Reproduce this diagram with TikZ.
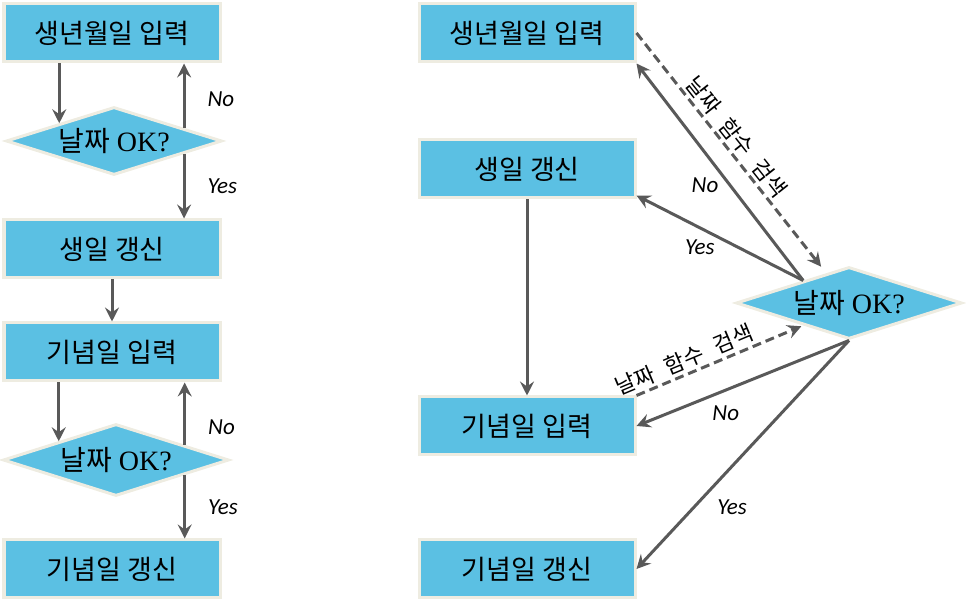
\documentclass[tikz,border=0pt]{standalone}
\usepackage{fontspec}
\setmainfont{Liberation Serif}
\newfontfamily\kr{Noto Sans CJK KR}
\newfontfamily\krwide[WordSpace=2.6, Scale=1.001]{Noto Sans CJK KR}
\newfontfamily\lat{Carlito}
\usepackage{tikz}
\usetikzlibrary{shapes.geometric, arrows, calc, positioning, arrows.meta}
\definecolor{boxfill}{HTML}{5BC0E3}
\definecolor{boxline}{HTML}{EEECE1}
\definecolor{linegray}{HTML}{595959}
\tikzstyle{process} = [rectangle, fill=boxfill, draw=boxline, line width=1.5pt, minimum width=108pt, minimum height=29pt, inner sep=0pt, font=\kr\fontsize{13.5}{15}\selectfont]
\tikzstyle{decision} = [diamond, fill=boxfill, draw=boxline, line width=1.5pt, minimum width=108pt, minimum height=34pt, inner sep=0pt, aspect=3, font=\fontsize{14}{15}\selectfont]
\tikzstyle{arrow} = [line width=1.5pt, draw=linegray, -{Stealth[length=7pt, width=7pt, inset=2.5pt]}]
\tikzstyle{dasharrow} = [arrow, dash pattern=on 4.5pt off 2.5pt]
\tikzstyle{answer} = [font=\lat\itshape\fontsize{11.5}{12}\selectfont, inner sep=1pt]
\tikzstyle{search} = [font=\krwide\fontsize{11}{12}\selectfont, inner sep=1.5pt, sloped, above]

\begin{document}
\begin{tikzpicture}[x=0.5pt, y=-0.5pt]
	\useasboundingbox (0,0) rectangle (966,603);
	% left: one check after each input
	\node (BirthIn) [process] at (112,33) {생년월일 입력};
	\node (BirthOK) [decision] at (114,141) {{\kr 날짜} OK?};
	\node (BirthUp) [process] at (112,249) {생일 갱신};
	\node (AnnivIn) [process] at (112,352) {기념일 입력};
	\node (AnnivOK) [decision, minimum width=113pt, minimum height=36pt] at (116,460) {{\kr 날짜} OK?};
	\node (AnnivUp) [process] at (112,569) {기념일 갱신};
	\coordinate (BirthNo) at ($(BirthOK.north)!0.64!(BirthOK.east)$);
	\coordinate (BirthYes) at ($(BirthOK.south)!0.64!(BirthOK.east)$);
	\coordinate (AnnivNo) at ($(AnnivOK.north)!0.6!(AnnivOK.east)$);
	\coordinate (AnnivYes) at ($(AnnivOK.south)!0.6!(AnnivOK.east)$);
	\draw [arrow] (BirthOK.north west |- BirthIn.south) -- (BirthOK.north west);
	\draw [arrow] (BirthNo) -- (BirthNo |- BirthIn.south) node [answer, pos=0.45, right=10pt] {No};
	\draw [arrow] (BirthYes) -- (BirthYes |- BirthUp.north) node [answer, midway, right=10pt] {Yes};
	\draw [arrow] (BirthUp) -- (AnnivIn);
	\draw [arrow] (AnnivOK.north west |- AnnivIn.south) -- (AnnivOK.north west);
	\draw [arrow] (AnnivNo) -- (AnnivNo |- AnnivIn.south) node [answer, pos=0.28, right=10pt] {No};
	\draw [arrow] (AnnivYes) -- (AnnivYes |- AnnivUp.north) node [answer, midway, right=10pt] {Yes};
	% right: one shared check
	\node (InR) [process] at (527,33) {생년월일 입력};
	\node (UpR) [process] at (527,169) {생일 갱신};
	\node (OKR) [decision, minimum width=113pt, minimum height=36pt] at (849,303) {{\kr 날짜} OK?};
	\node (AnnInR) [process] at (527,426) {기념일 입력};
	\node (AnnUpR) [process] at (527,569) {기념일 갱신};
	\coordinate (OKRtop) at ($(OKR.west)!0.6!(OKR.north)$);
	\draw [dasharrow, shorten >=4pt] (InR.east) -- ($(OKR.west)!0.8!(OKR.north)$) node [search, pos=0.47] {날짜 함수 검색};
	\draw [arrow] (OKRtop) -- (InR.south east) node [answer, pos=0.44, left=4pt] {No};
	\draw [arrow] (OKRtop) -- ($(UpR.south east)+(0,-4)$) node [answer, pos=0.62, below=4pt] {Yes};
	\draw [arrow] (UpR) -- (AnnInR);
	\draw [dasharrow, shorten >=1pt] (AnnInR.north east) -- ($(OKR.west)!0.6!(OKR.south)$) node [search, pos=0.32] {날짜 함수 검색};
	\draw [arrow] (OKR.south) -- (AnnInR.east) node [answer, pos=0.58, below=6pt] {No};
	\draw [arrow] (OKR.south) -- (AnnUpR.east) node [answer, pos=0.73, right=10pt] {Yes};
\end{tikzpicture}
\end{document}
